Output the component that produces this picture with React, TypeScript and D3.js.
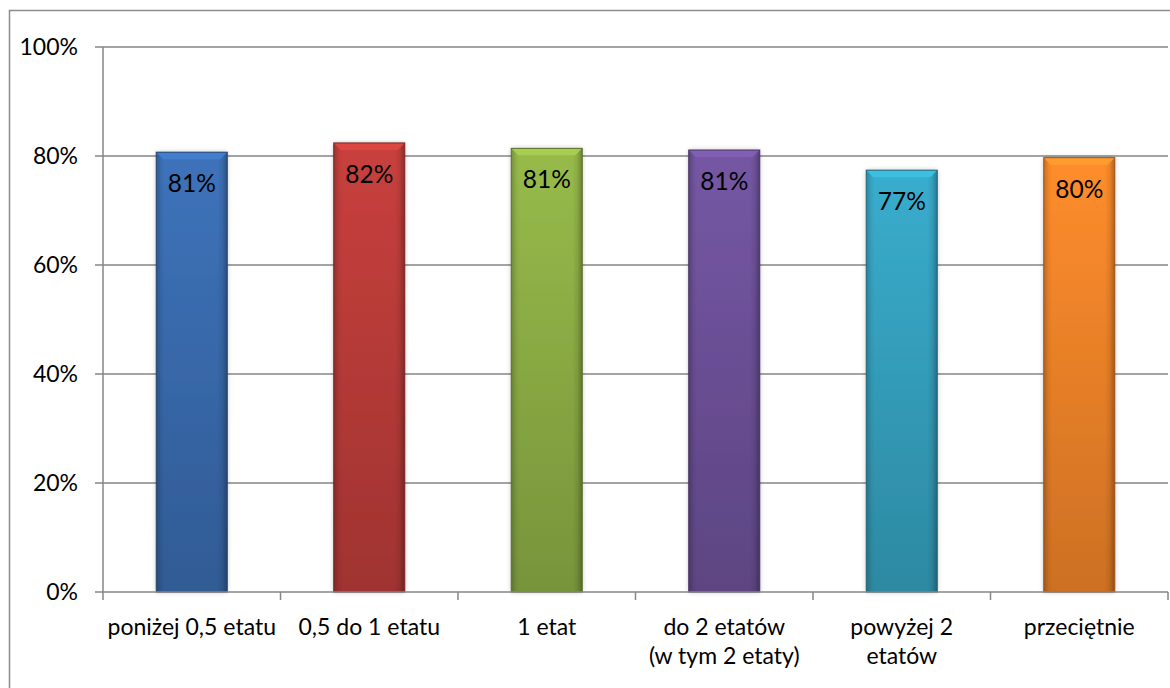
import React from "react";
import * as d3 from "d3";

const categories = [
  "poniżej 0,5 etatu",
  "0,5 do 1 etatu",
  "1 etat",
  "do 2 etatów\n(w tym 2 etaty)",
  "powyżej 2\netatów",
  "przeciętnie",
];
const values = [0.807, 0.824, 0.814, 0.811, 0.774, 0.797];
const barColors = ["#3a6db1", "#be3d3a", "#8fb146", "#6f529b", "#36a4c2", "#f4862a"];
const yTicks = [0, 0.2, 0.4, 0.6, 0.8, 1.0];

const W = 1170;
const H = 688;
const left = 103;
const right = 1168;
const top = 47;
const bottom = 592;
const FONT = "Lato, 'Liberation Sans', sans-serif";

export default function App() {
  const y = d3.scaleLinear().domain([0, 1]).range([bottom, top]);
  const xBand = d3.scaleBand<string>().domain(categories).range([left, right]).paddingInner(0.6).paddingOuter(0.3);
  const xCat = d3.scaleBand<string>().domain(categories).range([left, right]).padding(0);
  const pct = d3.format(".0%");
  const boundaries = [...categories.map((c) => xCat(c) as number), right];
  const bw = xBand.bandwidth();
  const bev = 7;

  return (
    <svg width={W} height={H} style={{ position: "absolute", left: 0, top: 0, background: "#fff" }} fontFamily={FONT}>
      <defs>
        {barColors.map((c, i) => {
          const base = d3.color(c)!;
          return (
            <linearGradient key={i} id={`vg${i}`} x1="0" y1="0" x2="0" y2="1">
              <stop offset="0%" stopColor={base.brighter(0.15).formatHex()} />
              <stop offset="100%" stopColor={base.darker(0.5).formatHex()} />
            </linearGradient>
          );
        })}
        <linearGradient id="hg" x1="0" y1="0" x2="1" y2="0">
          <stop offset="0%" stopColor="#000" stopOpacity={0.22} />
          <stop offset="7%" stopColor="#000" stopOpacity={0.05} />
          <stop offset="12%" stopColor="#000" stopOpacity={0} />
          <stop offset="86%" stopColor="#000" stopOpacity={0} />
          <stop offset="93%" stopColor="#000" stopOpacity={0.08} />
          <stop offset="100%" stopColor="#000" stopOpacity={0.3} />
        </linearGradient>
        <filter id="shadow" x="-20%" y="-5%" width="140%" height="110%">
          <feGaussianBlur in="SourceAlpha" stdDeviation="2.5" />
          <feOffset dx="0" dy="0" result="b" />
          <feComponentTransfer>
            <feFuncA type="linear" slope="0.25" />
          </feComponentTransfer>
          <feMerge>
            <feMergeNode />
            <feMergeNode in="SourceGraphic" />
          </feMerge>
        </filter>
      </defs>

      {/* outer border */}
      <rect x={9.5} y={10.5} width={W} height={H} fill="none" stroke="#8c8c8c" strokeWidth={1.5} />

      {/* gridlines */}
      {yTicks.slice(1).map((t) => (
        <line key={t} x1={left} x2={right} y1={y(t)} y2={y(t)} stroke="#868686" strokeWidth={1.5} />
      ))}

      {/* y tick marks and labels */}
      {yTicks.map((t) => (
        <g key={t}>
          <line x1={95} x2={left} y1={y(t)} y2={y(t)} stroke="#868686" strokeWidth={1.5} />
          <text x={78} y={y(t)} dy="0.36em" textAnchor="end" fontSize={23} fill="#000">
            {pct(t)}
          </text>
        </g>
      ))}

      {/* bars */}
      {categories.map((c, i) => {
        const x0 = xBand(c) as number;
        const yt = y(values[i]);
        const h = bottom - yt;
        const base = d3.color(barColors[i])!;
        return (
          <g key={c}>
            <g filter="url(#shadow)">
              <rect x={x0} y={yt} width={bw} height={h} fill={`url(#vg${i})`} />
            </g>
            <rect x={x0} y={yt} width={bw} height={h} fill="url(#hg)" />
            <polygon
              points={`${x0},${yt} ${x0 + bw},${yt} ${x0 + bw - bev},${yt + bev} ${x0 + bev},${yt + bev}`}
              fill={base.brighter(0.45).formatHex()}
              opacity={0.9}
            />
            <rect x={x0} y={yt} width={bw} height={h} fill="none" stroke={base.darker(1.3).formatHex()} strokeWidth={1} />
            <text x={x0 + bw / 2} y={yt + 40} textAnchor="middle" fontSize={24.5} fill="#000">
              {pct(Math.round(values[i] * 100) / 100)}
            </text>
          </g>
        );
      })}

      {/* axes */}
      <line x1={left} x2={left} y1={top} y2={bottom} stroke="#868686" strokeWidth={1.5} />
      <line x1={left} x2={right} y1={bottom} y2={bottom} stroke="#868686" strokeWidth={1.5} />
      {boundaries.map((bx, i) => (
        <line key={i} x1={bx} x2={bx} y1={bottom} y2={bottom + 8} stroke="#868686" strokeWidth={1.5} />
      ))}

      {/* category labels */}
      {categories.map((c) => {
        const cx = (xCat(c) as number) + xCat.bandwidth() / 2;
        return (
          <text key={c} x={cx} y={635} textAnchor="middle" fontSize={23} fill="#000">
            {c.split("\n").map((line, j) => (
              <tspan key={j} x={cx} dy={j === 0 ? 0 : 29}>
                {line}
              </tspan>
            ))}
          </text>
        );
      })}
    </svg>
  );
}
